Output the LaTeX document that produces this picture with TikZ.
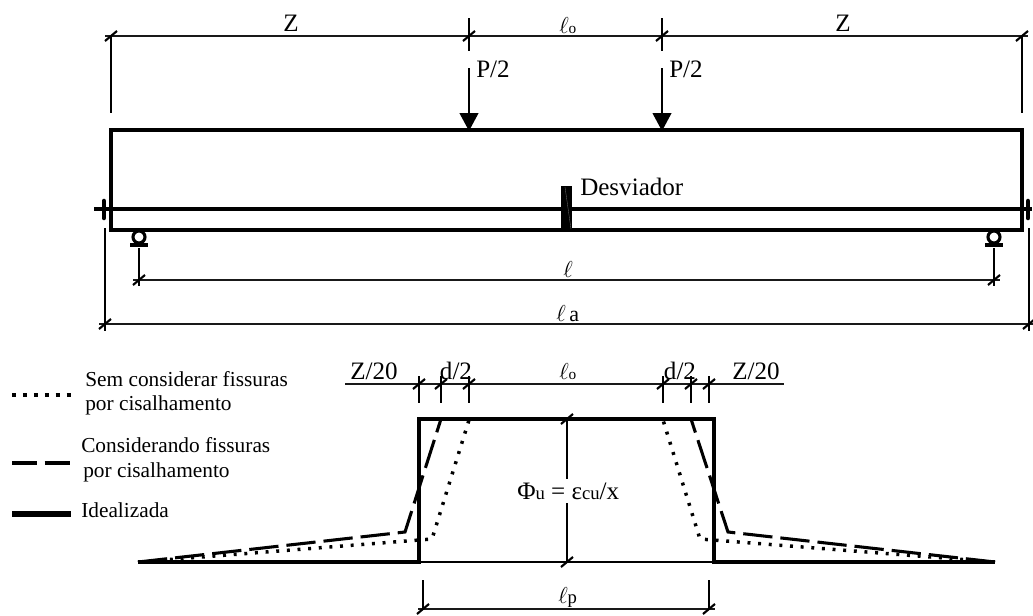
\documentclass[tikz,border=0pt]{standalone}
\usepackage{fontspec}
\setmainfont{Liberation Serif}
\usetikzlibrary{arrows.meta}
\tikzset{
  px/.style={x=0.75pt,y=-0.75pt},
  dimline/.style={line width=1.6pt,black!90},
  extline/.style={line width=1.5pt,black},
  beamline/.style={line width=2.3pt,black},
  cableline/.style={line width=3pt,black},
  loadarrow/.style={line width=1.7pt,-{Triangle[length=13.5pt,width=14pt]}},
  idealthick/.style={line width=3pt,black},
  idealthin/.style={line width=1.5pt,black},
  dashcurve/.style={line width=2.3pt,dash pattern=on 22pt off 6pt,line join=miter},
  dotcurve/.style={line width=2.6pt,dash pattern=on 2.2pt off 5.8pt,line join=miter},
  lab/.style={inner sep=0pt,anchor=base,font=\fontsize{18.8pt}{20pt}\selectfont},
  smalllab/.style={inner sep=0pt,anchor=base west,font=\fontsize{16pt}{18pt}\selectfont},
  tk/.pic={\draw[line width=1.6pt] (-6,5) -- (6,-5);},
  rollerpic/.pic={
    \draw[line width=2.3pt] (0,0) circle[radius=6];
    \draw[line width=3pt] (-9,8) -- (9,8);
  },
}
\newcommand{\ellm}{{\fontsize{18pt}{18pt}\selectfont\ensuremath{\ell}}}
\begin{document}
\begin{tikzpicture}[px]
\useasboundingbox (0,0) rectangle (1033,615);
% --- top dimension
\coordinate (t0) at (111,36);
\coordinate (t1) at (469,36);
\coordinate (t2) at (662,36);
\coordinate (t3) at (1022,36);
\coordinate (t0e) at (105,36);
\coordinate (t3e) at (1028,36);
\coordinate (v0b) at (111,113);
\coordinate (v3b) at (1022,113);
\coordinate (v1t) at (469,18);
\coordinate (v1b) at (469,51);
\coordinate (v2t) at (662,18);
\coordinate (v2b) at (662,51);
\draw[dimline] (t0e) -- (t3e);
\draw[extline] (t0) -- (v0b);
\draw[extline] (t3) -- (v3b);
\draw[extline] (v1t) -- (v1b);
\draw[extline] (v2t) -- (v2b);
\foreach \c in {t0,t1,t2,t3} \pic at (\c) {tk};
\node[lab] (zl) at (291,31) {Z};
\node[lab] (zr) at (843,31) {Z};
\node[smalllab] (lo1) at (559,33) {\ellm{\fontsize{11.5pt}{12pt}\selectfont o}};
% --- loads
\coordinate (p1t) at (469,68);
\coordinate (p1h) at (469,131);
\coordinate (p2t) at (662,68);
\coordinate (p2h) at (662,131);
\draw[loadarrow] (p1t) -- (p1h);
\draw[loadarrow] (p2t) -- (p2h);
\node[lab,anchor=base west] (p1) at (476,77) {P/2};
\node[lab,anchor=base west] (p2) at (669,77) {P/2};
% --- beam
\draw[beamline,line join=miter] (111,130) rectangle (1022,230);
\draw[line width=2.9pt] (111,130) -- (1022,130);
\coordinate (c0) at (94,209);
\coordinate (c1) at (1032,209);
\draw[cableline] (c0) -- (c1);
\draw[line width=3.4pt,line cap=round] (104,201) -- (104,218);
\draw[line width=3.4pt,line cap=round] (1028,201) -- (1028,218);
\fill (561,186) rectangle (572,230);
\draw[black!55,line width=0.25pt] (565,187) -- (571,229);
\node[lab,anchor=base west] (dv) at (580,195) {Desviador};
\pic at (139,237) {rollerpic};
\pic at (994,237) {rollerpic};
% --- l dimension
\coordinate (l0) at (139,280);
\coordinate (l1) at (994,280);
\coordinate (l0e) at (133,280);
\coordinate (l1e) at (1000,280);
\coordinate (l0t) at (139,248);
\coordinate (l1t) at (994,248);
\coordinate (l0b) at (139,286);
\coordinate (l1b) at (994,286);
\draw[dimline] (l0e) -- (l1e);
\draw[extline] (l0t) -- (l0b);
\draw[extline] (l1t) -- (l1b);
\pic at (l0) {tk};
\pic at (l1) {tk};
\node[smalllab] (ll) at (563,277) {\ellm};
% --- la dimension
\coordinate (a0) at (105,324);
\coordinate (a1) at (1029,324);
\coordinate (a0e) at (99,324);
\coordinate (a1e) at (1033,324);
\coordinate (a0t) at (105,228);
\coordinate (a1t) at (1029,228);
\coordinate (a0b) at (105,331);
\coordinate (a1b) at (1029,331);
\draw[dimline] (a0e) -- (a1e);
\draw[extline] (a0t) -- (a0b);
\draw[extline] (a1t) -- (a1b);
\pic at (a0) {tk};
\pic at (a1) {tk};
\node[smalllab] (la) at (556,321) {\ellm\,{\fontsize{16.5pt}{18pt}\selectfont a}};
% --- lower dimension line
\coordinate (d0) at (345,384);
\coordinate (d7) at (784,384);
\draw[dimline] (d0) -- (d7);
\foreach \n/\x in {a/419,b/441,c/469,d/663,e/691,f/709}{
  \coordinate (u\n) at (\x,384);
  \coordinate (w\n) at (\x,403);
  \coordinate (x\n) at (\x,376);
  \draw[extline] (x\n) -- (w\n);
  \pic at (u\n) {tk};
}
\node[lab] (z20l) at (374,379) {Z/20};
\node[lab] (d2l) at (456,379) {d/2};
\node[lab] (d2r) at (680,379) {d/2};
\node[lab] (z20r) at (756,379) {Z/20};
\node[smalllab] (lo2) at (559,379) {\ellm{\fontsize{11.5pt}{12pt}\selectfont o}};
% --- moment curvature diagram
\draw[idealthin] (419,562) -- (714,562);
\draw[idealthick,line join=miter] (138,562) -- (419,562) -- (419,419) -- (714,419) -- (714,562) -- (995,562);
\draw[line width=3.7pt] (419,419) -- (419,562);
\draw[dashcurve] (138,562) -- (405,532) -- (441,419);
\draw[dashcurve] (995,562) -- (728,532) -- (691,419);
\draw[dotcurve] (138,562) -- (432,539) -- (469,420);
\draw[dotcurve] (995,562) -- (700,539) -- (663,420);
% --- phi dimension
\coordinate (f0) at (567,419);
\coordinate (f1) at (567,562);
\coordinate (fm0) at (567,479);
\coordinate (fm1) at (567,503);
\draw[extline] (f0) -- (fm0);
\draw[extline] (fm1) -- (f1);
\pic at (f0) {tk};
\pic at (f1) {tk};
\node[lab,anchor=base west] (phi) at (517,499) {Φ{\fontsize{14pt}{14pt}\selectfont u} = ε{\fontsize{14pt}{14pt}\selectfont cu}/x};
% --- lp dimension
\coordinate (p0) at (423,609);
\coordinate (p3) at (709,609);
\coordinate (p0e) at (418,609);
\coordinate (p3e) at (715,609);
\coordinate (p0t) at (423,580);
\coordinate (p3t) at (709,580);
\draw[dimline] (p0e) -- (p3e);
\draw[extline] (p0t) -- (p0);
\draw[extline] (p3t) -- (p3);
\pic at (p0) {tk};
\pic at (p3) {tk};
\node[smalllab] (lp) at (558,603) {\ellm{\fontsize{14pt}{14pt}\selectfont p}};
% --- legend
\coordinate (g1a) at (12,395);
\coordinate (g1b) at (71,395);
\coordinate (g2a) at (12,463);
\coordinate (g2b) at (71,463);
\coordinate (g3a) at (12,514);
\coordinate (g3b) at (71,514);
\draw[line width=2.5pt,dash pattern=on 3pt off 5.2pt] (g1a) -- (g1b);
\draw[line width=2.5pt,dash pattern=on 19pt off 5.5pt] (g2a) -- (g2b);
\draw[line width=4pt] (g3a) -- (g3b);
\node[smalllab] (g1t) at (85,386) {Sem considerar fissuras};
\node[smalllab] (g1u) at (85,410) {por cisalhamento};
\node[smalllab] (g2t) at (81,452) {Considerando fissuras};
\node[smalllab] (g2u) at (83,477) {por cisalhamento};
\node[smalllab] (g3t) at (81,517) {Idealizada};
\end{tikzpicture}
\end{document}
